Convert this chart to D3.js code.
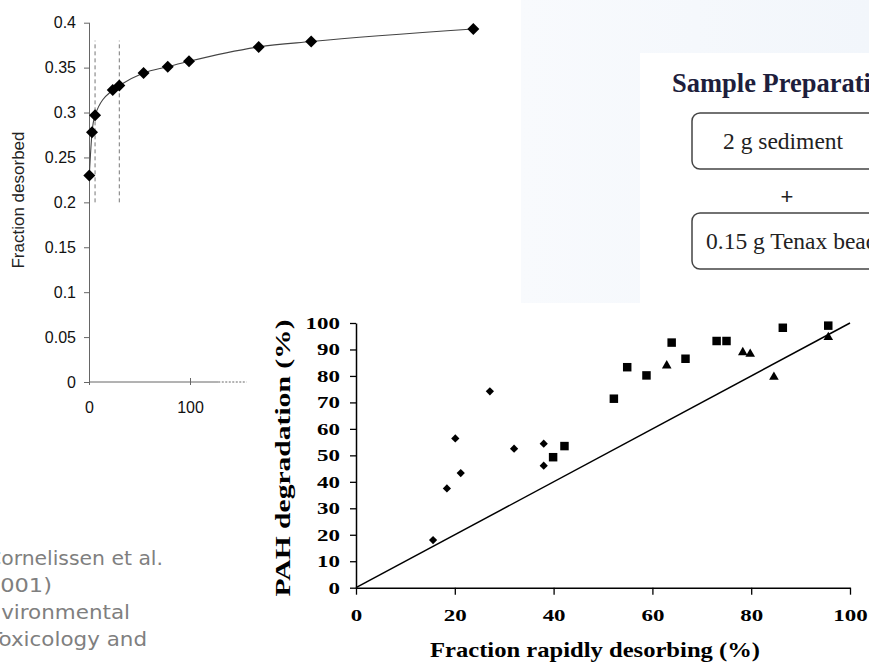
<!DOCTYPE html>
<html>
<head>
<meta charset="utf-8">
<script src="https://cdnjs.cloudflare.com/ajax/libs/d3/7.8.5/d3.min.js"></script>
<style>
  body { margin: 0; background: #fff; }
  svg { display: block; }
</style>
</head>
<body>
<svg id="slide"></svg>
<script>
// Desorption curve (top left)
const desorbTime = [0.3, 3, 6, 23.5, 30, 54, 78, 99, 168, 220, 380.5];
const fractionDesorbed = [0.230, 0.278, 0.297, 0.325, 0.330, 0.344, 0.351, 0.357, 0.373, 0.379, 0.393];
const cutoffTimes = [6, 30];
const fractionTicks = [0, 0.05, 0.1, 0.15, 0.2, 0.25, 0.3, 0.35, 0.4];
const timeTicks = [0, 100];

// Degradation vs rapidly desorbing fraction (bottom right)
const diamondX = [15.6, 18.4, 20.1, 21.2, 27.1, 32.0, 38.0, 38.0];
const diamondY = [18.0, 37.5, 56.4, 43.3, 74.2, 52.5, 54.4, 46.1];
const squareX = [39.9, 42.2, 52.2, 54.9, 58.8, 63.9, 66.7, 73.0, 75.0, 86.4, 95.6];
const squareY = [49.3, 53.5, 71.4, 83.3, 80.2, 92.6, 86.5, 93.2, 93.2, 98.2, 99.0];
const triangleX = [62.9, 78.3, 79.8, 84.6, 95.6];
const triangleY = [83.9, 88.9, 88.3, 79.6, 94.6];
const oneToOne = [0, 100];
const degTicks = [0, 10, 20, 30, 40, 50, 60, 70, 80, 90, 100];
const fracTicks = [0, 20, 40, 60, 80, 100];

const citation = ['Cornelissen et al.', '(2001)', 'Environmental', 'Toxicology and'];
const prepTitle = 'Sample Preparation';
const prepSteps = ['2 g sediment', '0.15 g Tenax beads'];

const W = 869, H = 671;
const svg = d3.select('#slide').attr('width', W).attr('height', H);

// background panels
const defs = svg.append('defs');
const grad = defs.append('linearGradient').attr('id', 'panelGrad')
    .attr('x1', 0).attr('x2', 1).attr('y1', 0).attr('y2', 0);
grad.append('stop').attr('offset', 0).attr('stop-color', '#f8fafd');
grad.append('stop').attr('offset', 1).attr('stop-color', '#f2f6fb');

svg.append('rect').attr('x', 0).attr('y', 0).attr('width', W).attr('height', H).attr('fill', '#fff');
svg.append('rect').attr('x', 521).attr('y', 0).attr('width', W - 521).attr('height', 303)
    .attr('fill', 'url(#panelGrad)');

// ---------- Sample preparation box ----------
const prep = svg.append('g');
prep.append('rect').attr('x', 640).attr('y', 53).attr('width', W - 640).attr('height', 250).attr('fill', '#fff');
prep.append('text')
    .attr('x', 672).attr('y', 92)
    .attr('font-family', '"Liberation Serif", serif')
    .attr('font-weight', 'bold')
    .attr('font-size', 26.5)
    .attr('fill', '#1e1e3c')
    .text(prepTitle);

const boxY = [113, 213];
prep.selectAll('.step-box')
    .data(prepSteps)
  .join('rect')
    .attr('class', 'step-box')
    .attr('x', 692).attr('y', (d, i) => boxY[i])
    .attr('width', 260).attr('height', 56)
    .attr('rx', 8)
    .attr('fill', '#fff')
    .attr('stroke', '#444')
    .attr('stroke-width', 1.5);

prep.selectAll('.step-text')
    .data(prepSteps)
  .join('text')
    .attr('class', 'step-text')
    .attr('x', (d, i) => i === 0 ? 723 : 706)
    .attr('y', (d, i) => boxY[i] + 36)
    .attr('font-family', '"Liberation Serif", serif')
    .attr('font-size', 23.5)
    .attr('fill', '#222')
    .text(d => d);

prep.append('text')
    .attr('x', 787).attr('y', 204)
    .attr('text-anchor', 'middle')
    .attr('font-family', '"Liberation Sans", sans-serif')
    .attr('font-size', 22)
    .attr('fill', '#222')
    .text('+');

// ---------- Top-left: fraction desorbed vs time ----------
const xL = d3.scaleLinear().domain([0, 100]).range([89, 190]);
const yL = d3.scaleLinear().domain([0, 0.4]).range([382, 22.7]);
const left = svg.append('g');

const yAxisL = d3.axisLeft(yL)
    .tickValues(fractionTicks)
    .tickSizeOuter(0)
    .tickSizeInner(5)
    .tickPadding(8)
    .tickFormat(d => String(+d.toFixed(2)));

left.append('g')
    .attr('transform', `translate(${xL(0)},0)`)
    .call(yAxisL)
    .call(g => g.select('.domain').attr('stroke', '#666'))
    .call(g => g.selectAll('.tick line').attr('stroke', '#666').attr('x2', -5).attr('x1', 1))
    .call(g => g.selectAll('.tick text')
        .attr('font-family', '"Liberation Sans", Arial, sans-serif')
        .attr('font-size', 16)
        .attr('fill', '#111'));

const xAxisL = d3.axisBottom(xL)
    .tickValues(timeTicks)
    .tickSizeOuter(0)
    .tickSizeInner(3)
    .tickPadding(17);

left.append('g')
    .attr('transform', `translate(0,${yL(0)})`)
    .call(xAxisL)
    .call(g => g.select('.domain').remove())
    .call(g => g.selectAll('.tick line').attr('stroke', '#666').attr('y1', -4))
    .call(g => g.selectAll('.tick text')
        .attr('font-family', '"Liberation Sans", Arial, sans-serif')
        .attr('font-size', 16)
        .attr('fill', '#111'));

left.append('line')
    .attr('x1', xL(0)).attr('x2', xL(128))
    .attr('y1', yL(0)).attr('y2', yL(0))
    .attr('stroke', '#666');
left.append('line')
    .attr('x1', xL(128)).attr('x2', xL(156))
    .attr('y1', yL(0)).attr('y2', yL(0))
    .attr('stroke', '#666')
    .attr('stroke-dasharray', '2,1.5');

left.append('text')
    .attr('transform', `translate(24,200) rotate(-90)`)
    .attr('text-anchor', 'middle')
    .attr('font-family', '"Liberation Sans", Arial, sans-serif')
    .attr('font-size', 17)
    .attr('fill', '#222')
    .text('Fraction desorbed');

left.selectAll('.cutoff')
    .data(cutoffTimes)
  .join('line')
    .attr('class', 'cutoff')
    .attr('x1', d => xL(d)).attr('x2', d => xL(d))
    .attr('y1', yL(0.2)).attr('y2', yL(0.38))
    .attr('stroke', '#777')
    .attr('stroke-dasharray', '4,3');

const curvePts = desorbTime.map((t, i) => [t, fractionDesorbed[i]]);
const curve = d3.line()
    .x(d => xL(d[0]))
    .y(d => yL(d[1]))
    .curve(d3.curveMonotoneX);

left.append('path')
    .datum(curvePts)
    .attr('d', curve)
    .attr('fill', 'none')
    .attr('stroke', '#444')
    .attr('stroke-width', 1.1);

left.selectAll('.pt')
    .data(curvePts)
  .join('path')
    .attr('class', 'pt')
    .attr('transform', d => `translate(${xL(d[0])},${yL(d[1])}) rotate(45)`)
    .attr('d', d3.symbol(d3.symbolSquare, 72))
    .attr('fill', '#000');

// ---------- Citation (runs off the left edge) ----------
const citeStart = [-13, -23, -26, -11];
const citeEnd = [163, 52, 130, 147];
svg.append('g').selectAll('text')
    .data(citation)
  .join('text')
    .attr('x', (d, i) => citeStart[i])
    .attr('y', (d, i) => 565 + i * 27)
    .attr('textLength', (d, i) => citeEnd[i] - citeStart[i])
    .attr('lengthAdjust', 'spacingAndGlyphs')
    .attr('font-family', '"DejaVu Sans", Verdana, sans-serif')
    .attr('font-size', 20)
    .attr('fill', '#7f7f7f')
    .text(d => d);

// ---------- Bottom-right: PAH degradation ----------
const xB = d3.scaleLinear().domain([0, 100]).range([356, 850]);
const yB = d3.scaleLinear().domain([0, 100]).range([587.7, 323]);
const bot = svg.append('g');
const serif = '"Liberation Serif", "Times New Roman", serif';
const stretch = 1.35;

const yAxisB = d3.axisLeft(yB)
    .tickValues(degTicks)
    .tickSizeOuter(0)
    .tickSizeInner(6);

bot.append('g')
    .attr('transform', `translate(${xB(0)},0)`)
    .call(yAxisB)
    .call(g => g.select('.domain').attr('stroke', '#000').attr('stroke-width', 1.5))
    .call(g => g.selectAll('.tick line').attr('stroke', '#000').attr('stroke-width', 1.3))
    .call(g => g.selectAll('.tick text')
        .attr('x', -16 / stretch)
        .attr('transform', `scale(${stretch},1)`)
        .attr('font-family', serif)
        .attr('font-weight', 'bold')
        .attr('font-size', 17)
        .attr('fill', '#000'));

const xAxisB = d3.axisBottom(xB)
    .tickValues(fracTicks)
    .tickSizeOuter(0)
    .tickSizeInner(7)
    .tickPadding(14);

bot.append('g')
    .attr('transform', `translate(0,${yB(0)})`)
    .call(xAxisB)
    .call(g => g.select('.domain').attr('stroke', '#000').attr('stroke-width', 1.5))
    .call(g => g.selectAll('.tick line').attr('stroke', '#000').attr('stroke-width', 1.3))
    .call(g => g.selectAll('.tick text')
        .attr('transform', `scale(${stretch},1)`)
        .attr('font-family', serif)
        .attr('font-weight', 'bold')
        .attr('font-size', 17)
        .attr('fill', '#000'));

bot.append('text')
    .attr('x', 595).attr('y', 657)
    .attr('text-anchor', 'middle')
    .attr('font-family', serif)
    .attr('font-weight', 'bold')
    .attr('font-size', 22)
    .attr('textLength', 330)
    .attr('lengthAdjust', 'spacingAndGlyphs')
    .text('Fraction rapidly desorbing (%)');

bot.append('text')
    .attr('transform', 'translate(290,458) rotate(-90)')
    .attr('text-anchor', 'middle')
    .attr('font-family', serif)
    .attr('font-weight', 'bold')
    .attr('font-size', 22)
    .attr('textLength', 277)
    .attr('lengthAdjust', 'spacingAndGlyphs')
    .text('PAH degradation (%)');

bot.append('line')
    .attr('x1', xB(oneToOne[0])).attr('y1', yB(oneToOne[0]))
    .attr('x2', xB(oneToOne[1])).attr('y2', yB(oneToOne[1]))
    .attr('stroke', '#000')
    .attr('stroke-width', 1.5);

const zip = (xs, ys) => xs.map((x, i) => [x, ys[i]]);

bot.selectAll('.dia')
    .data(zip(diamondX, diamondY))
  .join('path')
    .attr('class', 'dia')
    .attr('transform', d => `translate(${xB(d[0])},${yB(d[1])}) rotate(45)`)
    .attr('d', d3.symbol(d3.symbolSquare, 34))
    .attr('fill', '#000');

bot.selectAll('.sq')
    .data(zip(squareX, squareY))
  .join('path')
    .attr('class', 'sq')
    .attr('transform', d => `translate(${xB(d[0])},${yB(d[1])})`)
    .attr('d', d3.symbol(d3.symbolSquare, 72))
    .attr('fill', '#000');

bot.selectAll('.tri')
    .data(zip(triangleX, triangleY))
  .join('path')
    .attr('class', 'tri')
    .attr('transform', d => `translate(${xB(d[0])},${yB(d[1])})`)
    .attr('d', d3.symbol(d3.symbolTriangle, 40))
    .attr('fill', '#000');
</script>
</body>
</html>
